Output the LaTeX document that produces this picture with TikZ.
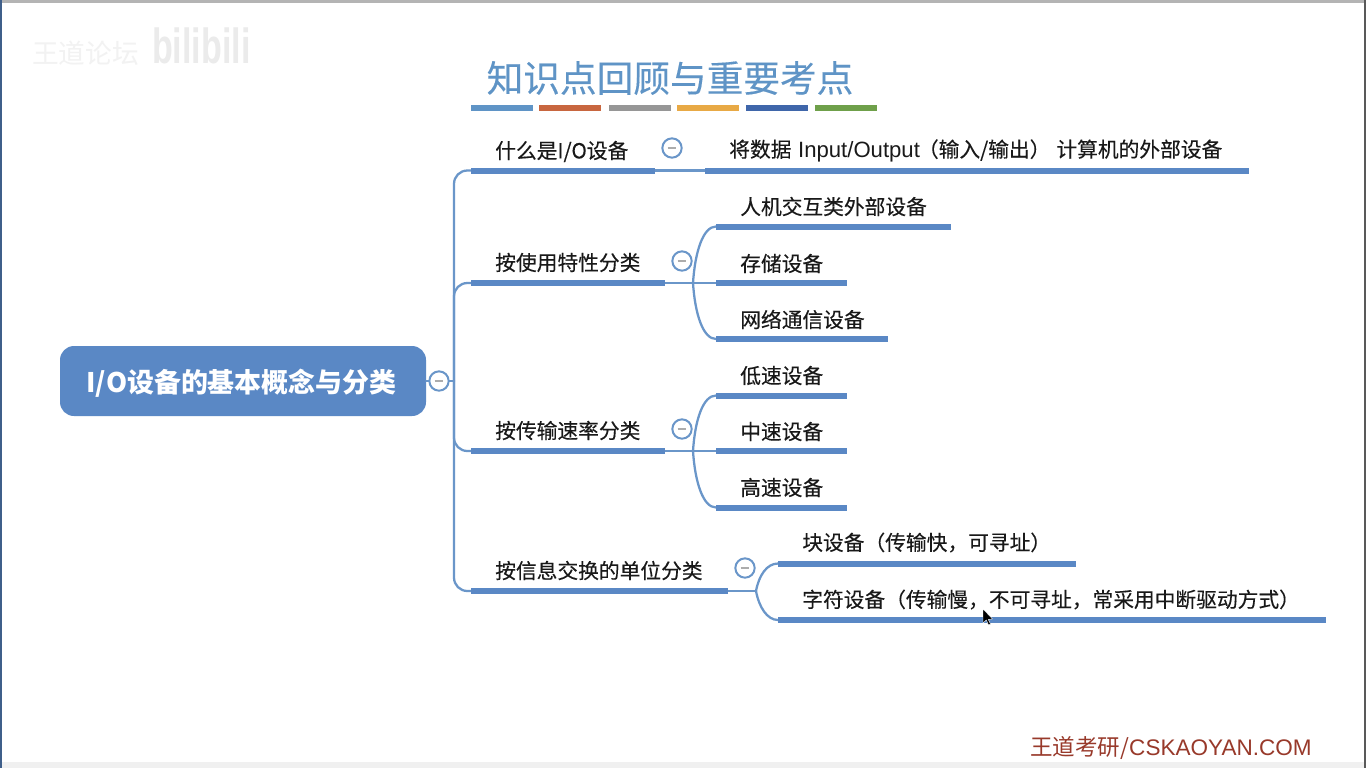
\documentclass[tikz,border=0pt]{standalone}
\usepackage{fontspec}
\setmainfont{Noto Sans CJK SC}
\newfontfamily\labf[FakeBold=0.25]{Noto Sans CJK SC}
\newfontfamily\latinf{Liberation Sans}
\definecolor{mapblue}{HTML}{5A88C5}
\definecolor{linkblue}{HTML}{6A96C9}
\definecolor{titleblue}{HTML}{5F94C6}
\definecolor{footred}{HTML}{98392A}
\definecolor{edgegray}{HTML}{B4B4B4}
\definecolor{swA}{HTML}{5F94C6}
\definecolor{swB}{HTML}{C8663F}
\definecolor{swC}{HTML}{969696}
\definecolor{swD}{HTML}{E8A945}
\definecolor{swE}{HTML}{3F66AA}
\definecolor{swF}{HTML}{6FA04A}
\tikzset{
 x=0.75pt,y=-0.75pt,
 lab/.style={anchor=west,inner sep=0pt,font=\labf\fontsize{15.55}{18}\selectfont,text=black!90},
 barn/.style={fill=mapblue,draw=none,inner sep=0pt,minimum height=3.9pt,outer sep=0pt},
 swatch/.style={draw=none,inner sep=0pt,minimum height=4.4pt,minimum width=46.5pt,anchor=west},
 link/.style={draw=linkblue,line width=1.7pt,line cap=round},
 collapse/.style={circle,draw=linkblue,fill=white,line width=1.5pt,minimum size=14.5pt,inner sep=0pt},
 minus/.style={draw=gray!65,line width=1.5pt},
}
% #1 name, #2 left x, #3 right x, #4 y
\newcommand{\mybar}[4]{\path[barn,fill=mapblue] (#2,#4-3) rectangle (#3,#4+3);
 \coordinate (#1W) at (#2,#4); \coordinate (#1E) at (#3,#4);}
\newcommand{\mycollapse}[2]{\node[collapse] (#1) at (#2) {}; \draw[minus] ([xshift=-3.2pt]#1.center) -- ([xshift=3.2pt]#1.center);}
\begin{document}
\begin{tikzpicture}
\useasboundingbox (0,0) rectangle (1366,768);
\fill[white] (0,0) rectangle (1366,768);
\fill[edgegray] (0,0) rectangle (1366,3);
\fill[black!6] (0,762) rectangle (1366,768);
\fill[mapblue!70!black] (0,0) rectangle (2,768);
\fill[black!65] (1364,0) rectangle (1366,768);
% watermark
\node[anchor=west,inner sep=0pt,text=black!5,font=\fontsize{20}{24}\selectfont] (wmA) at (32,53) {王道论坛};
\node[anchor=west,inner sep=0pt,text=black!8,xscale=0.69,font=\latinf\bfseries\fontsize{37}{40}\selectfont] (wmB) at (152,46) {bilibili};
% title
\node[anchor=center,inner sep=0pt,text=titleblue,font=\labf\fontsize{27.5}{32}\selectfont] (title) at (670,78) {知识点回顾与重要考点};
\node[swatch,fill=swA] (s1) at (471,108) {};
\node[swatch,fill=swB] (s2) at (539,108) {};
\node[swatch,fill=swC] (s3) at (609,108) {};
\node[swatch,fill=swD] (s4) at (677,108) {};
\node[swatch,fill=swE] (s5) at (746,108) {};
\node[swatch,fill=swF] (s6) at (815,108) {};
% root
\node[fill=mapblue,rounded corners=10.5pt,minimum width=274.5pt,minimum height=52.5pt,inner sep=0pt] (root) at (243,381) {};
\node[inner sep=0pt,text=white,font=\bfseries\fontsize{20.2}{24}\selectfont] (rootT) at (241.5,383) {I/O设备的基本概念与分类};
\coordinate (tA) at (471,170.5);
\coordinate (tB) at (471,283);
\coordinate (tC) at (471,451);
\coordinate (tD) at (471,591);
\coordinate (trunk) at (454,381);
\draw[link] (root.east) -- (trunk);
\draw[link,rounded corners=10pt] (tA) -| (trunk);
\draw[link,rounded corners=10pt] (tB) -| (trunk);
\draw[link,rounded corners=10pt] (tC) -| (trunk);
\draw[link,rounded corners=10pt] (tD) -| (trunk);
% branch 1
\coordinate (aE) at (655,170.5); \coordinate (a1W) at (705,170.5);
\draw[link] (aE) -- (a1W);
% forks
\coordinate (bE) at (665,283); \coordinate (bF) at (693,283);
\coordinate (b1) at (716,226.5); \coordinate (b2) at (716,283); \coordinate (b3) at (716,339);
\draw[link] (bE) -- (b2);
\draw[link] (bF) .. controls (695,252) and (703,226.5) .. (b1);
\draw[link] (bF) .. controls (695,314) and (703,339) .. (b3);
\coordinate (cE) at (665,451); \coordinate (cF) at (693,451);
\coordinate (c1) at (716,395.5); \coordinate (c2) at (716,451); \coordinate (c3) at (716,507.5);
\draw[link] (cE) -- (c2);
\draw[link] (cF) .. controls (695,420) and (703,395.5) .. (c1);
\draw[link] (cF) .. controls (695,482) and (703,507.5) .. (c3);
\coordinate (dE) at (728,591); \coordinate (dF) at (756,591);
\coordinate (d1) at (778,563.5); \coordinate (d2) at (778,620);
\draw[link] (dE) -- (dF);
\draw[link] (dF) .. controls (759,575) and (767,563.5) .. (d1);
\draw[link] (dF) .. controls (759,607) and (767,620) .. (d2);
% bars
\mybar{pA}{471}{655}{170.5}
\mybar{qA}{705}{1249}{170.5}
\mybar{pB}{471}{665}{283}
\mybar{qBa}{716}{951}{226.5}
\mybar{qBb}{716}{847}{283}
\mybar{qBc}{716}{888}{339}
\mybar{pC}{471}{665}{451}
\mybar{qCa}{716}{847}{395.5}
\mybar{qCb}{716}{847}{451}
\mybar{qCc}{716}{847}{507.5}
\mybar{pD}{471}{728}{591}
\mybar{qDa}{778}{1076}{563.5}
\mybar{qDb}{778}{1326}{620}
% labels
\node[lab] (lA) at (495,151.5) {什么是I/O设备};
\node[lab] (lA1) at (729,150.5) {将数据\hspace{1.5pt} {\latinf\fontsize{16.6}{18}\selectfont Input/Output}\hspace{-1.5pt}（输入/输出）\hspace{4.5pt}计算机的外部设备};
\node[lab] (lB) at (495,262.5) {按使用特性分类};
\node[lab] (lB1) at (740,206.5) {人机交互类外部设备};
\node[lab] (lB2) at (740,263.5) {存储设备};
\node[lab] (lB3) at (740,319.5) {网络通信设备};
\node[lab] (lC) at (495,430.5) {按传输速率分类};
\node[lab] (lC1) at (740,375.5) {低速设备};
\node[lab] (lC2) at (740,431.5) {中速设备};
\node[lab] (lC3) at (740,487.5) {高速设备};
\node[lab] (lD) at (495,570.5) {按信息交换的单位分类};
\node[lab] (lD1) at (802,542.5) {块设备（传输快，可寻址）};
\node[lab] (lD2) at (802,599.5) {字符设备（传输慢，不可寻址，常采用中断驱动方式）};
% collapse buttons
\mycollapse{cR}{439,381}
\mycollapse{cA}{672,148}
\mycollapse{cB}{682,261}
\mycollapse{cC}{682,429}
\mycollapse{cD}{745,568}
% cursor
\fill[black,draw=white,line width=0.3pt] (983,609) -- (983,623) -- (986.3,620) -- (988.5,625) -- (990.5,624) -- (988.3,619.5) -- (992.5,619) -- cycle;
% footer
\node[anchor=west,inner sep=0pt,text=footred,font=\fontsize{16.9}{21}\selectfont] (foot) at (1030,748) {王道考研/{\latinf CSKAOYAN.COM}};
\end{tikzpicture}
\end{document}
